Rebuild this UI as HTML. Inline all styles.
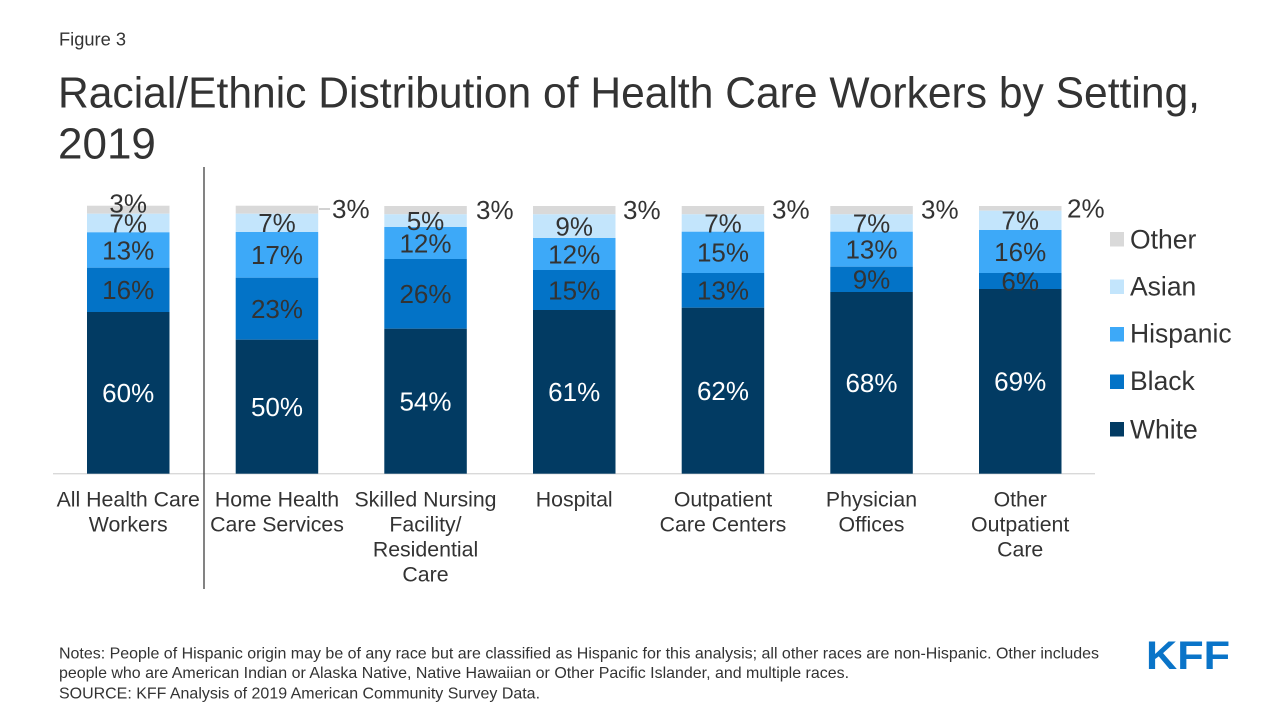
<!DOCTYPE html>
<html>
<head>
<meta charset="utf-8">
<style>
  html, body { margin: 0; padding: 0; background: #ffffff; }
  body { width: 1280px; height: 720px; overflow: hidden; }
  svg { display: block; }
  text { font-family: "Liberation Sans", Arial, sans-serif; }
</style>
</head>
<body>
<svg width="1280" height="720" viewBox="0 0 1280 720" xmlns="http://www.w3.org/2000/svg">
  <rect x="0" y="0" width="1280" height="720" fill="#ffffff"/>

  <!-- Header -->
  <text x="59" y="45.5" font-size="18" fill="#333333" textLength="67" lengthAdjust="spacingAndGlyphs">Figure 3</text>
  <text x="58" y="107.5" font-size="44" fill="#333333" textLength="1142" lengthAdjust="spacingAndGlyphs">Racial/Ethnic Distribution of Health Care Workers by Setting,</text>
  <text x="58" y="158.5" font-size="44" fill="#333333">2019</text>

  <!-- Axis baseline -->
  <line x1="53" y1="473.7" x2="1095" y2="473.7" stroke="#d9d9d9" stroke-width="1.3"/>
  <!-- Divider -->
  <line x1="204" y1="167" x2="204" y2="589" stroke="#404040" stroke-width="1.3"/>

  <!-- Bar 1 -->
  <g>
    <rect x="87" y="205.7" width="82.5" height="8" fill="#D9D9D9"/>
    <rect x="87" y="213.7" width="82.5" height="18.6" fill="#C3E5FC"/>
    <rect x="87" y="232.3" width="82.5" height="35.4" fill="#3DA9F8"/>
    <rect x="87" y="267.7" width="82.5" height="44.3" fill="#0373C7"/>
    <rect x="87" y="312" width="82.5" height="161.7" fill="#023B63"/>
  </g>
  <!-- Bar 2 -->
  <g>
    <rect x="235.7" y="205.7" width="82.5" height="8" fill="#D9D9D9"/>
    <rect x="235.7" y="213.7" width="82.5" height="18.3" fill="#C3E5FC"/>
    <rect x="235.7" y="232" width="82.5" height="45.7" fill="#3DA9F8"/>
    <rect x="235.7" y="277.7" width="82.5" height="62" fill="#0373C7"/>
    <rect x="235.7" y="339.7" width="82.5" height="134" fill="#023B63"/>
  </g>
  <!-- Bar 3 -->
  <g>
    <rect x="384.3" y="206" width="82.5" height="8.3" fill="#D9D9D9"/>
    <rect x="384.3" y="214.3" width="82.5" height="12.7" fill="#C3E5FC"/>
    <rect x="384.3" y="227" width="82.5" height="32" fill="#3DA9F8"/>
    <rect x="384.3" y="259" width="82.5" height="69.7" fill="#0373C7"/>
    <rect x="384.3" y="328.7" width="82.5" height="145" fill="#023B63"/>
  </g>
  <!-- Bar 4 -->
  <g>
    <rect x="533" y="206" width="82.5" height="8.3" fill="#D9D9D9"/>
    <rect x="533" y="214.3" width="82.5" height="23.7" fill="#C3E5FC"/>
    <rect x="533" y="238" width="82.5" height="32" fill="#3DA9F8"/>
    <rect x="533" y="270" width="82.5" height="40" fill="#0373C7"/>
    <rect x="533" y="310" width="82.5" height="163.7" fill="#023B63"/>
  </g>
  <!-- Bar 5 -->
  <g>
    <rect x="681.7" y="206" width="82.5" height="8.3" fill="#D9D9D9"/>
    <rect x="681.7" y="214.3" width="82.5" height="17.4" fill="#C3E5FC"/>
    <rect x="681.7" y="231.7" width="82.5" height="41.3" fill="#3DA9F8"/>
    <rect x="681.7" y="273" width="82.5" height="34.7" fill="#0373C7"/>
    <rect x="681.7" y="307.7" width="82.5" height="166" fill="#023B63"/>
  </g>
  <!-- Bar 6 -->
  <g>
    <rect x="830.3" y="206" width="82.5" height="8.3" fill="#D9D9D9"/>
    <rect x="830.3" y="214.3" width="82.5" height="17.4" fill="#C3E5FC"/>
    <rect x="830.3" y="231.7" width="82.5" height="35" fill="#3DA9F8"/>
    <rect x="830.3" y="266.7" width="82.5" height="25.3" fill="#0373C7"/>
    <rect x="830.3" y="292" width="82.5" height="181.7" fill="#023B63"/>
  </g>
  <!-- Bar 7 -->
  <g>
    <rect x="979" y="206" width="82.5" height="4.7" fill="#D9D9D9"/>
    <rect x="979" y="210.7" width="82.5" height="19.3" fill="#C3E5FC"/>
    <rect x="979" y="230" width="82.5" height="43" fill="#3DA9F8"/>
    <rect x="979" y="273" width="82.5" height="16" fill="#0373C7"/>
    <rect x="979" y="289" width="82.5" height="184.7" fill="#023B63"/>
  </g>

  <!-- Leader line for bar 2 -->
  <line x1="319" y1="209" x2="330" y2="209" stroke="#a6a6a6" stroke-width="1"/>

  <!-- Data labels -->
  <g font-size="26" fill="#333333" text-anchor="middle">
    <!-- Bar 1 -->
    <text x="128.2" y="212.3">3%</text>
    <text x="128.2" y="232.3">7%</text>
    <text x="128.2" y="259.3">13%</text>
    <text x="128.2" y="299.2">16%</text>
    <!-- Bar 2 -->
    <text x="277" y="232.2">7%</text>
    <text x="277" y="264.2">17%</text>
    <text x="277" y="318">23%</text>
    <!-- Bar 3 -->
    <text x="425.5" y="230">5%</text>
    <text x="425.5" y="252.3">12%</text>
    <text x="425.5" y="303.2">26%</text>
    <!-- Bar 4 -->
    <text x="574.2" y="235.5">9%</text>
    <text x="574.2" y="263.3">12%</text>
    <text x="574.2" y="299.3">15%</text>
    <!-- Bar 5 -->
    <text x="723" y="232.3">7%</text>
    <text x="723" y="261.7">15%</text>
    <text x="723" y="299.7">13%</text>
    <!-- Bar 6 -->
    <text x="871.5" y="232.3">7%</text>
    <text x="871.5" y="258.5">13%</text>
    <text x="871.5" y="288.7">9%</text>
    <!-- Bar 7 -->
    <text x="1020.2" y="229.7">7%</text>
    <text x="1020.2" y="260.8">16%</text>
    <text x="1020.2" y="290.3">6%</text>
  </g>
  <g font-size="26" fill="#ffffff" text-anchor="middle">
    <text x="128.2" y="402.1">60%</text>
    <text x="277" y="416">50%</text>
    <text x="425.5" y="410.5">54%</text>
    <text x="574.2" y="401.2">61%</text>
    <text x="723" y="400">62%</text>
    <text x="871.5" y="392.2">68%</text>
    <text x="1020.2" y="390.7">69%</text>
  </g>
  <!-- Outside "Other" labels -->
  <g font-size="26" fill="#333333">
    <text x="332" y="217.8">3%</text>
    <text x="476" y="218.8">3%</text>
    <text x="623" y="218.8">3%</text>
    <text x="772" y="218.5">3%</text>
    <text x="921" y="218.5">3%</text>
    <text x="1067" y="217.3">2%</text>
  </g>

  <!-- Category labels -->
  <g font-size="21.3" fill="#333333" text-anchor="middle">
    <text x="128.2" y="506.5">All Health Care</text>
    <text x="128.2" y="531.5">Workers</text>
    <text x="277" y="506.5">Home Health</text>
    <text x="277" y="531.5">Care Services</text>
    <text x="425.5" y="506.5">Skilled Nursing</text>
    <text x="425.5" y="531.5">Facility/</text>
    <text x="425.5" y="556.5">Residential</text>
    <text x="425.5" y="581.5">Care</text>
    <text x="574.2" y="506.5">Hospital</text>
    <text x="723" y="506.5">Outpatient</text>
    <text x="723" y="531.5">Care Centers</text>
    <text x="871.5" y="506.5">Physician</text>
    <text x="871.5" y="531.5">Offices</text>
    <text x="1020.2" y="506.5">Other</text>
    <text x="1020.2" y="531.5">Outpatient</text>
    <text x="1020.2" y="556.5">Care</text>
  </g>

  <!-- Legend -->
  <g font-size="26.5" fill="#333333">
    <rect x="1110" y="232" width="14" height="14.5" fill="#D9D9D9"/>
    <text x="1130" y="248.3">Other</text>
    <rect x="1110" y="279.5" width="14" height="14.5" fill="#C3E5FC"/>
    <text x="1130" y="295.5">Asian</text>
    <rect x="1110" y="327" width="14" height="14.5" fill="#3DA9F8"/>
    <text x="1130" y="342.5">Hispanic</text>
    <rect x="1110" y="374.5" width="14" height="14.5" fill="#0373C7"/>
    <text x="1130" y="390.2">Black</text>
    <rect x="1110" y="422" width="14" height="14.5" fill="#023B63"/>
    <text x="1130" y="438.3">White</text>
  </g>

  <!-- Notes -->
  <g font-size="16" fill="#333333">
    <text x="59" y="658.3" textLength="1040" lengthAdjust="spacingAndGlyphs">Notes: People of Hispanic origin may be of any race but are classified as Hispanic for this analysis; all other races are non-Hispanic. Other includes</text>
    <text x="59" y="677.8" textLength="790" lengthAdjust="spacingAndGlyphs">people who are American Indian or Alaska Native, Native Hawaiian or Other Pacific Islander, and multiple races.</text>
    <text x="59" y="698.3" textLength="481" lengthAdjust="spacingAndGlyphs">SOURCE: KFF Analysis of 2019 American Community Survey Data.</text>
  </g>

  <!-- KFF logo -->
  <text x="1146" y="669" font-size="40" font-weight="bold" fill="#0A74C8" textLength="84" lengthAdjust="spacingAndGlyphs">KFF</text>
</svg>
</body>
</html>
